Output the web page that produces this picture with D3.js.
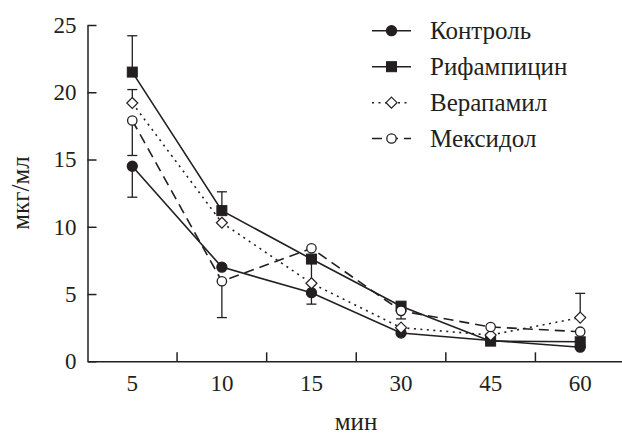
<!DOCTYPE html>
<html>
<head>
<meta charset="utf-8">
<script src="https://cdn.jsdelivr.net/npm/d3@7"></script>
<style>
  body { margin: 0; background: #fff; }
  svg { display: block; }
  svg text { font-family: "Liberation Serif", "Times New Roman", Times, "DejaVu Serif", serif !important; fill: #231f20; }
</style>
</head>
<body>
<svg id="chart" width="622" height="434"></svg>
<script>
// data
let categories = ["5", "10", "15", "30", "45", "60"];
let yTicks = [0, 5, 10, 15, 20, 25];
let seriesNames = ["Контроль", "Рифампицин", "Верапамил", "Мексидол"];

let control    = [14.5, 7.0, 5.1, 2.1, 1.55, 1.05];
let rifampicin = [21.5, 11.2, 7.6, 4.1, 1.5, 1.45];
let verapamil  = [19.2, 10.3, 5.8, 2.5, 1.95, 3.25];
let mexidol    = [17.9, 5.95, 8.4, 3.75, 2.55, 2.2];

// one-sided error bars: + goes up, - goes down, 0 = none
let controlErr    = [-2.3, 0, 0, 0, 0, 0];
let rifampicinErr = [2.7, 1.4, -3.35, 0, 0, 0];
let verapamilErr  = [1.0, 0, 0, 0, 0, 1.8];
let mexidolErr    = [-2.6, -2.7, 0, -0.6, 0, 0];

let ink = "#231f20";
let serif = "'Liberation Serif', 'Times New Roman', Times, 'DejaVu Serif', serif";

let series = [
  {name: seriesNames[0], values: control, err: controlErr, symbol: "circle", fill: ink, dash: null},
  {name: seriesNames[1], values: rifampicin, err: rifampicinErr, symbol: "square", fill: ink, dash: null},
  {name: seriesNames[2], values: verapamil, err: verapamilErr, symbol: "diamond", fill: "#fff", dash: "2,4.5"},
  {name: seriesNames[3], values: mexidol, err: mexidolErr, symbol: "circle", fill: "#fff", dash: "10,6"}
];

let svg = d3.select("#chart");

let x = d3.scaleBand().domain(categories).range([87.5, 625]);
let y = d3.scaleLinear().domain([0, 25]).range([361.3, 25]);
let cx = d => x(d) + x.bandwidth() / 2;

// y axis, ticks pointing inward
let yAxis = svg.append("g")
    .attr("transform", "translate(" + x.range()[0] + ",0)")
    .call(d3.axisLeft(y).tickValues(yTicks).tickSize(-9).tickSizeOuter(0).tickPadding(11));
yAxis.attr("font-family", serif).attr("font-size", 23);
yAxis.selectAll("text").style("font-family", serif).attr("fill", ink);

// x axis: labels at band centres, ticks on the band borders
let xAxis = svg.append("g")
    .attr("transform", "translate(0," + y(0) + ")")
    .call(d3.axisBottom(x).tickSize(0).tickSizeOuter(0));
xAxis.attr("font-family", serif).attr("font-size", 23);
xAxis.selectAll("text").style("font-family", serif)
    .attr("fill", ink).attr("y", 30).attr("dy", null);
xAxis.selectAll(".border")
    .data(categories.slice(1))
    .enter().append("line")
    .attr("x1", d => x(d)).attr("x2", d => x(d))
    .attr("y1", 0).attr("y2", -9)
    .attr("stroke", ink);

[yAxis, xAxis].forEach(g => {
  g.selectAll("path, line").attr("stroke", ink).attr("stroke-width", 1.5);
});

svg.append("text")
    .attr("x", 356).attr("y", 430)
    .attr("text-anchor", "middle")
    .style("font-family", serif)
    .attr("font-size", "25px")
    .text("мин");

svg.append("text")
    .attr("transform", "translate(29," + 193 + ") rotate(-90)")
    .attr("text-anchor", "middle")
    .style("font-family", serif)
    .attr("font-size", "25px")
    .text("мкг/мл");

let line = d3.line()
    .x((d, i) => cx(categories[i]))
    .y(d => y(d));

let plot = svg.append("g");

plot.selectAll(".series")
    .data(series)
    .enter().append("path")
    .attr("d", d => line(d.values))
    .attr("fill", "none")
    .attr("stroke", ink)
    .attr("stroke-width", 1.6)
    .attr("stroke-dasharray", d => d.dash);

// error bars
series.forEach(s => {
  s.err.forEach((e, i) => {
    if (!e) return;
    let px = cx(categories[i]);
    let end = y(s.values[i] + e);
    plot.append("line")
        .attr("x1", px).attr("x2", px)
        .attr("y1", y(s.values[i])).attr("y2", end)
        .attr("stroke", ink).attr("stroke-width", 1.3);
    plot.append("line")
        .attr("x1", px - 5).attr("x2", px + 5)
        .attr("y1", end).attr("y2", end)
        .attr("stroke", ink).attr("stroke-width", 1.3);
  });
});

function drawMarker(g, s, px, py) {
  if (s.symbol === "circle") {
    g.append("circle").attr("cx", px).attr("cy", py).attr("r", s.fill === ink ? 5 : 4.7)
        .attr("fill", s.fill).attr("stroke", ink).attr("stroke-width", 1.3);
  } else if (s.symbol === "square") {
    g.append("rect").attr("x", px - 5).attr("y", py - 5).attr("width", 10).attr("height", 10)
        .attr("fill", s.fill).attr("stroke", ink).attr("stroke-width", 1);
  } else {
    let r = 5.5;
    g.append("path")
        .attr("d", "M" + px + "," + (py - r) + "L" + (px + r) + "," + py + "L" + px + "," + (py + r) + "L" + (px - r) + "," + py + "Z")
        .attr("fill", s.fill).attr("stroke", ink).attr("stroke-width", 1.2);
  }
}

series.forEach(s => {
  s.values.forEach((v, i) => drawMarker(plot, s, cx(categories[i]), y(v)));
});

// legend
let legend = svg.append("g");
let rowY = [30.7, 66.7, 102.7, 138.5];
series.forEach((s, i) => {
  let g = legend.append("g");
  g.append("line")
      .attr("x1", 372).attr("x2", 411)
      .attr("y1", rowY[i]).attr("y2", rowY[i])
      .attr("stroke", ink).attr("stroke-width", 1.6)
      .attr("stroke-dasharray", s.dash);
  drawMarker(g, s, 391.5, rowY[i]);
  g.append("text")
      .attr("x", 430).attr("y", rowY[i] + 8.5)
      .style("font-family", serif)
      .attr("font-size", "25px")
      .text(s.name);
});
</script>
</body>
</html>
